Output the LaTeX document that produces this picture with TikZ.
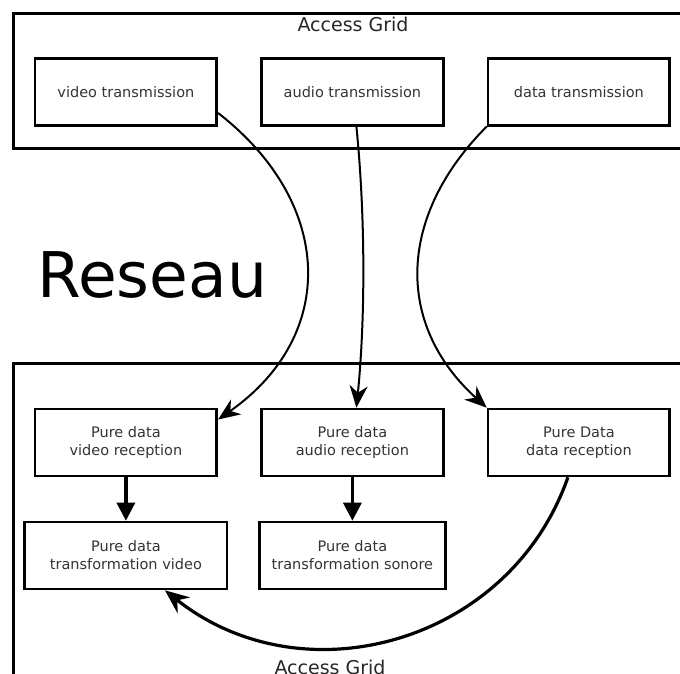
\documentclass[tikz,border=0pt]{standalone}
\usepackage{fontspec}
\setmainfont{DejaVu Sans}
\usetikzlibrary{arrows.meta}

\begin{document}
\begin{tikzpicture}[x=1pt,y=-1pt,node distance=226.5pt,
	box/.style={draw,line width=2.6pt,minimum width=181.7pt,minimum height=67pt,align=center,text=black!80,font=\fontsize{14.5}{18}\selectfont},
	grp/.style={line width=2.4pt},
	lbl/.style={text=black!85,font=\fontsize{19}{19}\selectfont,anchor=base,inner sep=0pt},
	flow/.style={line width=2pt,-{Stealth[length=22pt,width=18pt,inset=7pt]}},
	down/.style={line width=3.2pt,-{Triangle[length=18pt,width=18pt]}}]
	\useasboundingbox (0,0) rectangle (680,673);
	\clip (0,0) rectangle (680,673);

	\draw[grp] (13.3,13.3) rectangle (690,148.3);
	\draw[grp] (13.3,363.3) rectangle (690,690);
	\node[lbl] (top) at (353,31.7) {Access Grid};
	\node[lbl] (bot) at (330,674) {Access Grid};
	\node[anchor=base west,inner sep=0pt,font=\fontsize{63}{63}\selectfont] (net) at (37,297) {Reseau};

	\node[box] (vt) at (125.9,91.7) {video transmission};
	\node[box] (au) [right of=vt] {audio transmission};
	\node[box] (dt) [right of=au] {data transmission};

	\node[box] (vr) at (125.9,442.5) {Pure data\\video reception};
	\node[box] (ar) [right of=vr] {Pure data\\audio reception};
	\node[box] (dr) [right of=ar] {Pure Data\\data reception};

	\node[box,minimum width=202.3pt,node distance=113pt,below of=vr] (tv) {Pure data\\transformation video};
	\node[box,minimum width=186.4pt,right of=tv] (ts) {Pure data\\transformation sonore};

	\draw[flow] (vt.-13) .. controls +(116,90) and +(120,-84) .. (vr.14);
	\draw[flow] ([xshift=4pt]au.south) .. controls +(9,90) and +(9,-90) .. ([xshift=4pt]ar.north);
	\draw[flow] (dt.south west) .. controls +(-88.6,88.6) and +(-92.7,-84) .. (dr.north west);
	\draw[down] (vr) -- (tv);
	\draw[down] (ar) -- (ts);
	\draw[flow,line width=3.2pt,-{Stealth[length=24pt,width=20pt,inset=8pt]}] ([xshift=-11pt]dr.south) .. controls +(-58,166) and +(138.5,110) .. ([xshift=39pt]tv.south);
\end{tikzpicture}
\end{document}
